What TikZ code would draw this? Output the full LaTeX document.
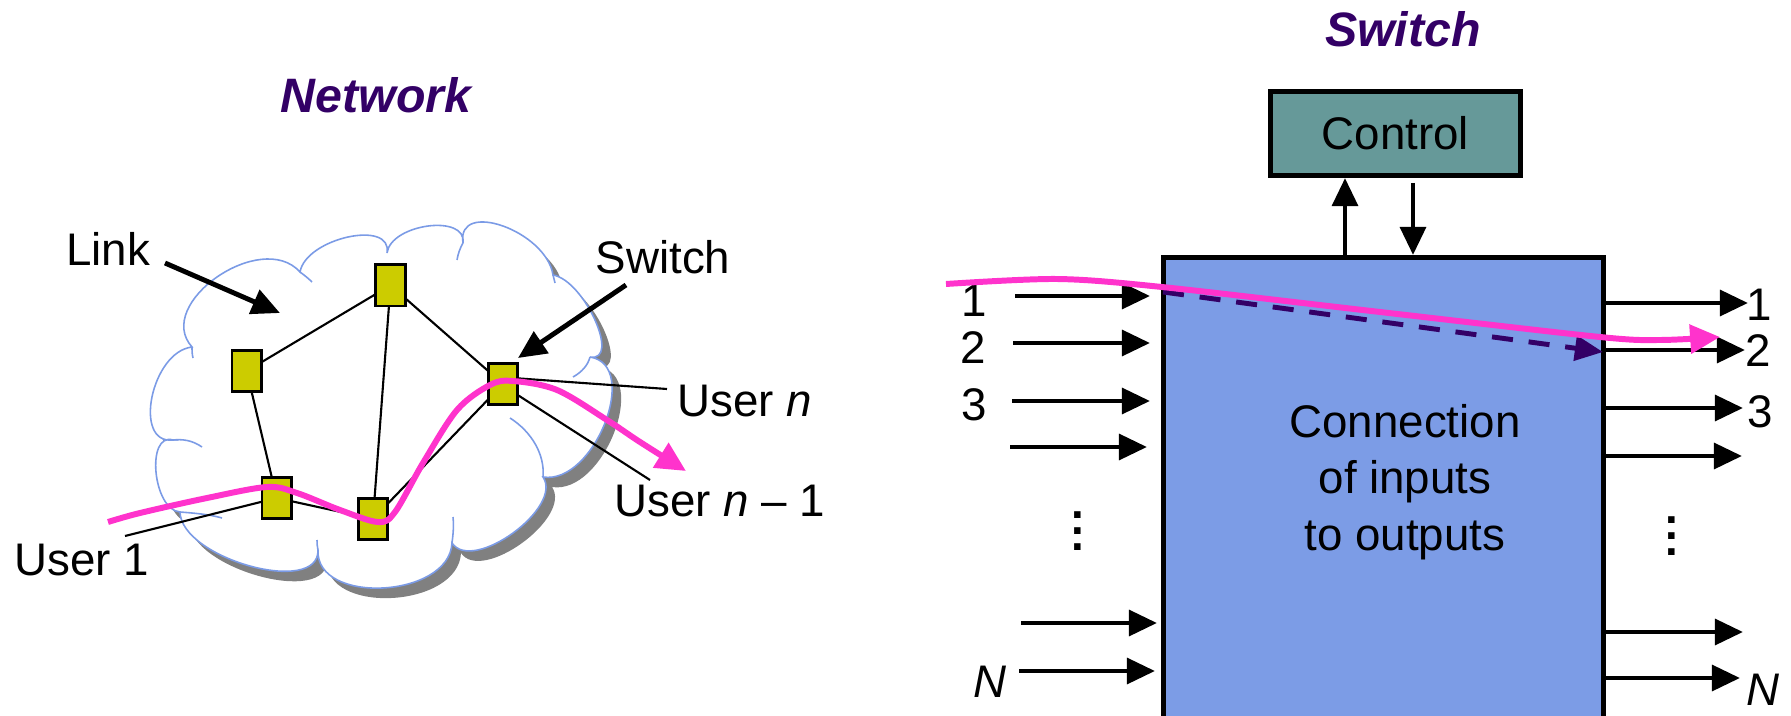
\documentclass[tikz,border=0pt]{standalone}
\usepackage{fontspec}
\setmainfont{Liberation Sans}
\usetikzlibrary{arrows.meta,calc}
\definecolor{titlepurple}{HTML}{330066}
\definecolor{swyellow}{HTML}{CCCC00}
\definecolor{cloudline}{HTML}{7B9BE6}
\definecolor{boxblue}{HTML}{7C9CE6}
\definecolor{ctrlteal}{HTML}{669999}
\definecolor{pathpink}{HTML}{FF33CC}
\definecolor{dashpurple}{HTML}{330066}
\definecolor{shadowgray}{HTML}{808080}
\tikzset{
  lbl/.style={inner sep=0pt, font=\fontsize{26}{32}\selectfont},
  ttl/.style={inner sep=0pt, text=titlepurple, font=\fontsize{27.5}{34}\selectfont\bfseries\itshape},
  swnode/.style={draw=black, line width=1.5pt, fill=swyellow, minimum width=0.59cm, minimum height=0.83cm, inner sep=0pt},
  linkline/.style={line width=1.2pt},
  bigarrow/.style={line width=2.8pt, -{Triangle[length=16pt,width=14.5pt]}},
  pinkarrow/.style={draw=pathpink, line width=3.4pt, -{Triangle[length=17pt,width=16pt]}},
  cloudborder/.style={draw=cloudline, line width=0.9pt},
  boxstyle/.style={draw=black, line width=2.6pt, inner sep=0pt},
  vdotsnode/.style={inner sep=0pt, align=center, font=\fontsize{26}{9.1}\selectfont\bfseries},
}
\begin{document}
\begin{tikzpicture}[x=0.02cm,y=-0.02cm]
\useasboundingbox (0,0) rectangle (1791,716);
% ---------------- Network (left) ----------------
\node[ttl] (tNet) at (376,95) {Network};
% cloud shadow
\begin{scope}[shift={(9,10)}]
\fill[shadowgray] (192,347) .. controls (151.3,351.7) and (132.3,444.7) .. (173,440)
  .. controls (145.7,432) and (152.7,510) .. (180,512)
  .. controls (181.3,558.7) and (319.3,596.7) .. (318,550)
  .. controls (315.3,605.3) and (449.3,598.3) .. (452,543)
  .. controls (472.7,573.7) and (563.7,507.7) .. (543,477)
  .. controls (594.3,485) and (641.3,365) .. (590,357)
  .. controls (621.3,362.3) and (584.3,280.3) .. (553,275)
  .. controls (546.3,231) and (456.3,199) .. (463,243)
  .. controls (467,213.7) and (391,223.7) .. (387,253)
  .. controls (393,219) and (306,238) .. (300,272)
  .. controls (261.3,228.7) and (153.3,303.7) .. (192,347) -- cycle;
\end{scope}
% cloud
\filldraw[cloudborder, fill=white] (192,347) .. controls (151.3,351.7) and (132.3,444.7) .. (173,440)
  .. controls (145.7,432) and (152.7,510) .. (180,512)
  .. controls (181.3,558.7) and (319.3,596.7) .. (318,550)
  .. controls (315.3,605.3) and (449.3,598.3) .. (452,543)
  .. controls (472.7,573.7) and (563.7,507.7) .. (543,477)
  .. controls (594.3,485) and (641.3,365) .. (590,357)
  .. controls (621.3,362.3) and (584.3,280.3) .. (553,275)
  .. controls (546.3,231) and (456.3,199) .. (463,243)
  .. controls (467,213.7) and (391,223.7) .. (387,253)
  .. controls (393,219) and (306,238) .. (300,272)
  .. controls (261.3,228.7) and (153.3,303.7) .. (192,347) -- cycle;
% inner cloud arcs
\draw[cloudborder] (510,418) .. controls (532,432) and (545,455) .. (543,477);
\draw[cloudborder] (573,377) .. controls (582,372) and (588,365) .. (590,357);
\draw[cloudborder] (453,517) .. controls (454,527) and (453,535) .. (452,543);
\draw[cloudborder] (202,447) .. controls (192,440) and (182,439) .. (173,440);
\draw[cloudborder] (193,358) .. controls (192,354) and (192,350) .. (192,347);
\draw[cloudborder] (312,282) .. controls (308,278) and (304,275) .. (300,272);
\draw[cloudborder] (457,260) .. controls (458,254) and (460,248) .. (463,243);
\draw[cloudborder] (555,283) .. controls (554,279) .. (553,275);
\draw[cloudborder] (222,518) .. controls (208,514) and (192,513) .. (180,512);
\draw[cloudborder] (317,540) .. controls (317,544) .. (318,550);
% switch node positions
\coordinate (pTop) at (390.5,285.3);
\coordinate (pLft) at (246.7,371);
\coordinate (pRgt) at (503,384);
\coordinate (pBl) at (276.7,498);
\coordinate (pBm) at (373,519);
% user line ends
\coordinate (u1end) at (125,536);
\coordinate (unend) at (667,389);
\coordinate (un1end) at (650,480);
% links (drawn under nodes)
\draw[linkline] (pTop) -- (pLft);
\draw[linkline] (pTop) -- (pBm);
\draw[linkline] (pTop) -- (pRgt);
\draw[linkline] (pLft) -- (pBl);
\draw[linkline] (pBl) -- (pBm);
\draw[linkline] (pBm) -- (pRgt);
\draw[linkline] (pBl) -- (u1end);
\draw[linkline] ($(pRgt)+(10,-6)$) -- (unend);
\draw[linkline] ($(pRgt)+(10,8)$) -- (un1end);
% switches
\node[swnode] (sTop) at (pTop) {};
\node[swnode] (sLft) at (pLft) {};
\node[swnode] (sRgt) at (pRgt) {};
\node[swnode] (sBl) at (pBl) {};
\node[swnode] (sBm) at (pBm) {};
% labels
\node[lbl] (lLink) at (108,249) {Link};
\node[lbl] (lSwitch) at (663,257) {Switch};
\node[lbl] (lU1) at (82,560) {User 1};
\node[lbl] (lUn) at (745,401) {User \textit{n}};
\node[lbl] (lUn1) at (720,501) {User \textit{n} – 1};
% label arrows
\coordinate (linkA) at (165,263);
\coordinate (linkB) at (280,313);
\coordinate (swA) at (626,285);
\coordinate (swB) at (518,358);
\draw[bigarrow] (linkA) -- (linkB);
\draw[bigarrow] (swA) -- (swB);
% pink path
\draw[pinkarrow] plot[smooth, tension=0.55] coordinates {(108,522) (140,513) (207,498) (267,487) (297,493) (340,510) (378,522) (395,512) (423,463) (457,410) (490,385) (513,381) (557,390) (607,420) (640,442) (686,471)};
% ---------------- Switch (right) ----------------
\node[ttl] (tSw) at (1403,29) {Switch};
\node[boxstyle, fill=boxblue, minimum width=8.80cm, minimum height=9.63cm] (sw) at (1383.25,498) {};
\node[boxstyle, fill=ctrlteal, minimum width=5.01cm, minimum height=1.69cm, font=\fontsize{26}{32}\selectfont] (ctrl) at (1395.5,133.5) {Control};
\node[lbl, align=center] (conn) at (1405,482) {Connection\\of inputs\\to outputs};
% control arrows
\coordinate (cu) at (1345,0);
\coordinate (cd) at (1413,183);
\draw[bigarrow] (sw.north -| cu) -- (ctrl.south -| cu);
\draw[bigarrow] (cd) -- (sw.north -| cd);
% inputs
\foreach \n/\y/\xs/\xe in {1/296/1015/1150, 2/343/1013/1150, 3/401/1012/1150, 4/447/1010/1147, 5/623/1021/1157, 6/671/1019/1155}{
  \coordinate (ia\n) at (\xs,\y);
  \coordinate (ib\n) at (\xe,\y);
  \draw[bigarrow] (ia\n) -- (ib\n);
}
% outputs
\foreach \n/\y/\xe in {1/303/1748, 2/350/1745, 3/408/1743, 4/456/1742, 5/632/1743, 6/678/1740}{
  \coordinate (ob\n) at (\xe,\y);
  \draw[bigarrow] (ob\n -| sw.east) -- (ob\n);
}
% port labels
\node[lbl] (li1) at (974,301) {1};
\node[lbl] (li2) at (973,348) {2};
\node[lbl] (li3) at (974,405) {3};
\node[lbl] (liN) at (990,682) {\textit{N}};
\node[lbl] (lo1) at (1759,305) {1};
\node[lbl] (lo2) at (1758,351) {2};
\node[lbl] (lo3) at (1760,412) {3};
\node[lbl] (loN) at (1763,690) {\textit{N}};
\node[vdotsnode] (ldots) at (1078,531) {.\\.\\.};
\node[vdotsnode] (rdots) at (1672,536) {.\\.\\.};
% dashed connection
\coordinate (dA) at (1163,292);
\coordinate (dB) at (1603,352);
\draw[draw=dashpurple, line width=2.8pt, dash pattern=on 12pt off 9pt, -{Triangle[length=16pt,width=14pt]}] (dA) -- (dB);
% pink path through switch
\draw[pinkarrow] plot[smooth, tension=0.5] coordinates {(946,284) (1057,279) (1162,287) (1380,312) (1600,337) (1660,340) (1720,337)};
\end{tikzpicture}
\end{document}
